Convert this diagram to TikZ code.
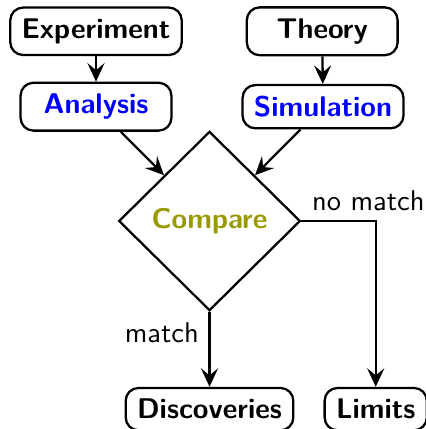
\documentclass[tikz,border=0pt]{standalone}
\usepackage{xcolor}
\usepackage{tikz}
\usetikzlibrary{arrows.meta,positioning,shapes.geometric}
\definecolor{dimolive}{HTML}{999900}

\begin{document}
\begin{tikzpicture}[
  font=\sffamily,
  stagebox/.style={draw, thick, rounded corners=4.5pt, inner xsep=4pt, inner ysep=3.9pt, minimum width=1.86cm, font=\sffamily\bfseries},
  decide/.style={draw, thick, diamond, aspect=1, minimum width=2.24cm, font=\sffamily\bfseries, text=dimolive},
  arr/.style={-{Stealth[length=6.5pt, width=6pt, inset=2.5pt]}, thick}
]
\useasboundingbox (-2.584,-2.565) rectangle (2.670,2.726);
\node[decide] (cmp) at (0,0) {Compare};
\node[stagebox, text=blue] (ana) at (-1.4,1.41) {Analysis};
\node[stagebox, text=blue] (sim) at (1.4,1.41) {Simulation};
\node[stagebox] (exp) at (-1.4,2.34) {Experiment};
\node[stagebox] (thy) at (1.39,2.34) {Theory};
\node[stagebox] (dis) at (0,-2.32) {Discoveries};
\node[stagebox, minimum width=0pt] (lim) at (2.05,-2.32) {Limits};
\draw[arr] (exp) -- (ana);
\draw[arr] (thy) -- (sim);
\draw[arr] (ana) -- (cmp);
\draw[arr] (sim) -- (cmp);
\draw[arr] (cmp.south) node[below left] {match} -- (dis);
\draw[arr] (cmp.east) node[above right] {no match} -| (lim.north);
\end{tikzpicture}
\end{document}
